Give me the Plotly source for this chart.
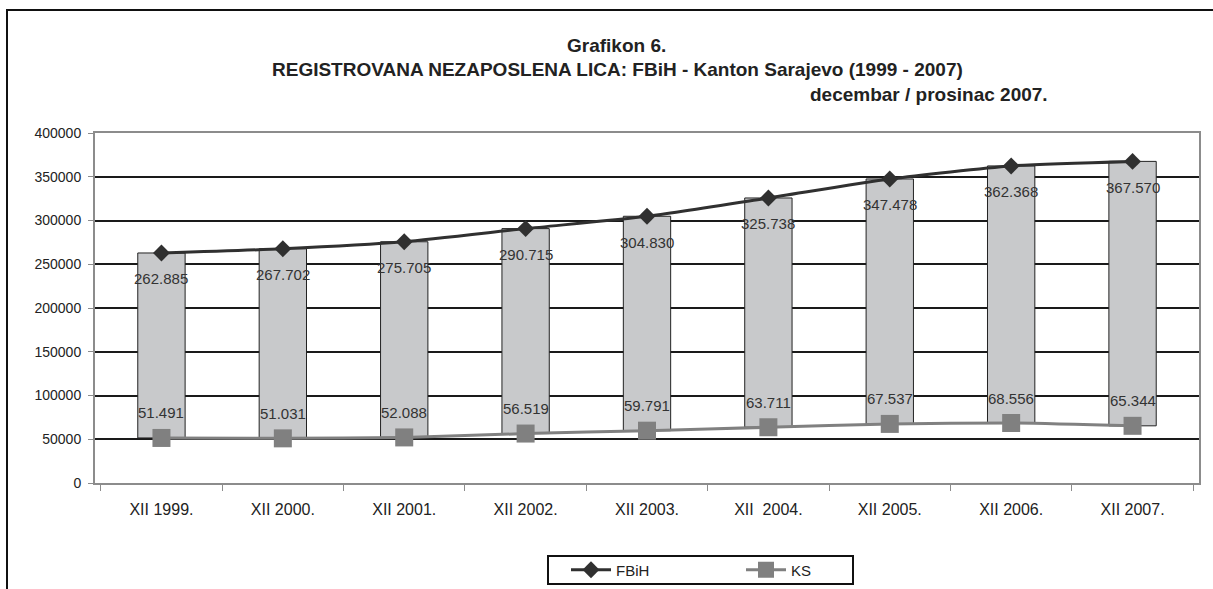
import plotly.graph_objects as go

# Data
categories = ["XII 1999.", "XII 2000.", "XII 2001.", "XII 2002.", "XII 2003.",
              "XII  2004.", "XII 2005.", "XII 2006.", "XII 2007."]
fbih = [262885, 267702, 275705, 290715, 304830, 325738, 347478, 362368, 367570]
ks = [51491, 51031, 52088, 56519, 59791, 63711, 67537, 68556, 65344]
y_ticks = [0, 50000, 100000, 150000, 200000, 250000, 300000, 350000, 400000]


def fmt(v):
    return f"{v:,}".replace(",", ".")


W, H = 1213, 589
L, R, T, B = 95, 14, 133, 106
pw, ph = W - L - R, H - T - B


def px(x):
    return (x - L) / pw


def py(y):
    return (H - B - y) / ph


fig = go.Figure()

# grey up/down bars between the two series
fig.add_trace(go.Bar(
    x=categories,
    y=[f - k for f, k in zip(fbih, ks)],
    base=ks,
    width=0.39,
    marker=dict(color="#c8c9cb", line=dict(color="#222222", width=1)),
    showlegend=False,
    hoverinfo="skip",
))

fig.add_trace(go.Scatter(
    x=categories, y=ks, name="KS", mode="lines+markers",
    line=dict(color="#808080", width=3, shape="spline", smoothing=0.6),
    marker=dict(symbol="square", size=18, color="#808080"),
))

fig.add_trace(go.Scatter(
    x=categories, y=fbih, name="FBiH", mode="lines+markers",
    line=dict(color="#303030", width=3, shape="spline", smoothing=0.6),
    marker=dict(symbol="diamond", size=13, color="#303030"),
))

# data labels
annotations = []
for c, v in zip(categories, fbih):
    annotations.append(dict(x=c, y=v, text=fmt(v), showarrow=False, yshift=-26,
                            font=dict(size=15, color="#333333")))
for c, v in zip(categories, ks):
    annotations.append(dict(x=c, y=v, text=fmt(v), showarrow=False, yshift=25,
                            font=dict(size=15, color="#333333")))

# title lines
title_font = dict(family="Liberation Sans, Arial", size=19, color="#222222")
annotations.append(dict(xref="paper", yref="paper", x=px(616), y=py(46), yanchor="middle",
                        text="<b>Grafikon 6.</b>", showarrow=False, font=title_font))
annotations.append(dict(xref="paper", yref="paper", x=px(617), y=py(69), yanchor="middle",
                        text="<b>REGISTROVANA NEZAPOSLENA LICA: FBiH - Kanton Sarajevo (1999 - 2007)</b>",
                        showarrow=False, font=title_font))
annotations.append(dict(xref="paper", yref="paper", x=px(1050), y=py(94), xanchor="right",
                        yanchor="middle",
                        text="<b>decembar / prosinac 2007.</b>", showarrow=False, font=title_font))

fig.update_layout(
    width=W, height=H,
    margin=dict(l=L, r=R, t=T, b=B, pad=0, autoexpand=False),
    paper_bgcolor="white", plot_bgcolor="white",
    font=dict(family="Liberation Sans, Arial", size=14, color="#222222"),
    annotations=annotations,
    legend=dict(
        orientation="h", traceorder="reversed",
        xref="container", yref="container",
        x=566 / W, xanchor="left", y=(H - 570) / H, yanchor="middle",
        borderwidth=0, bgcolor="rgba(0,0,0,0)",
        font=dict(size=15, color="#222222"),
        entrywidth=120, itemwidth=40,
    ),
    shapes=[
        dict(type="path", xref="paper", yref="paper",
             path=f"M {px(7)} {py(600)} L {px(7)} {py(10)} L {px(1220)} {py(10)}",
             line=dict(color="#111111", width=2)),
        dict(type="rect", xref="paper", yref="paper",
             x0=px(548), x1=px(853), y0=py(584), y1=py(556),
             line=dict(color="#111111", width=2)),
    ],
    showlegend=True,
)

fig.update_xaxes(
    type="category", showline=True, linecolor="#8c8c8c", linewidth=2, mirror=True,
    ticks="outside", tickson="boundaries", ticklen=6, tickcolor="#8c8c8c",
    showgrid=False, ticklabelstandoff=11, automargin=False,
    tickfont=dict(size=16, color="#222222"),
)
fig.update_yaxes(
    range=[0, 400000], tickvals=y_ticks, tickformat="d",
    showline=True, linecolor="#8c8c8c", linewidth=2, mirror=True,
    ticks="outside", ticklen=5, tickcolor="#8c8c8c",
    showgrid=True, gridcolor="#1a1a1a", gridwidth=2, zeroline=False,
    ticklabelstandoff=4, automargin=False,
    tickfont=dict(size=14, color="#222222"),
)

# drop the default page margin so the figure sits at the window corner
fig.write_html("out.html", config={"displayModeBar": False},
               post_script="document.body.style.margin='0';")
